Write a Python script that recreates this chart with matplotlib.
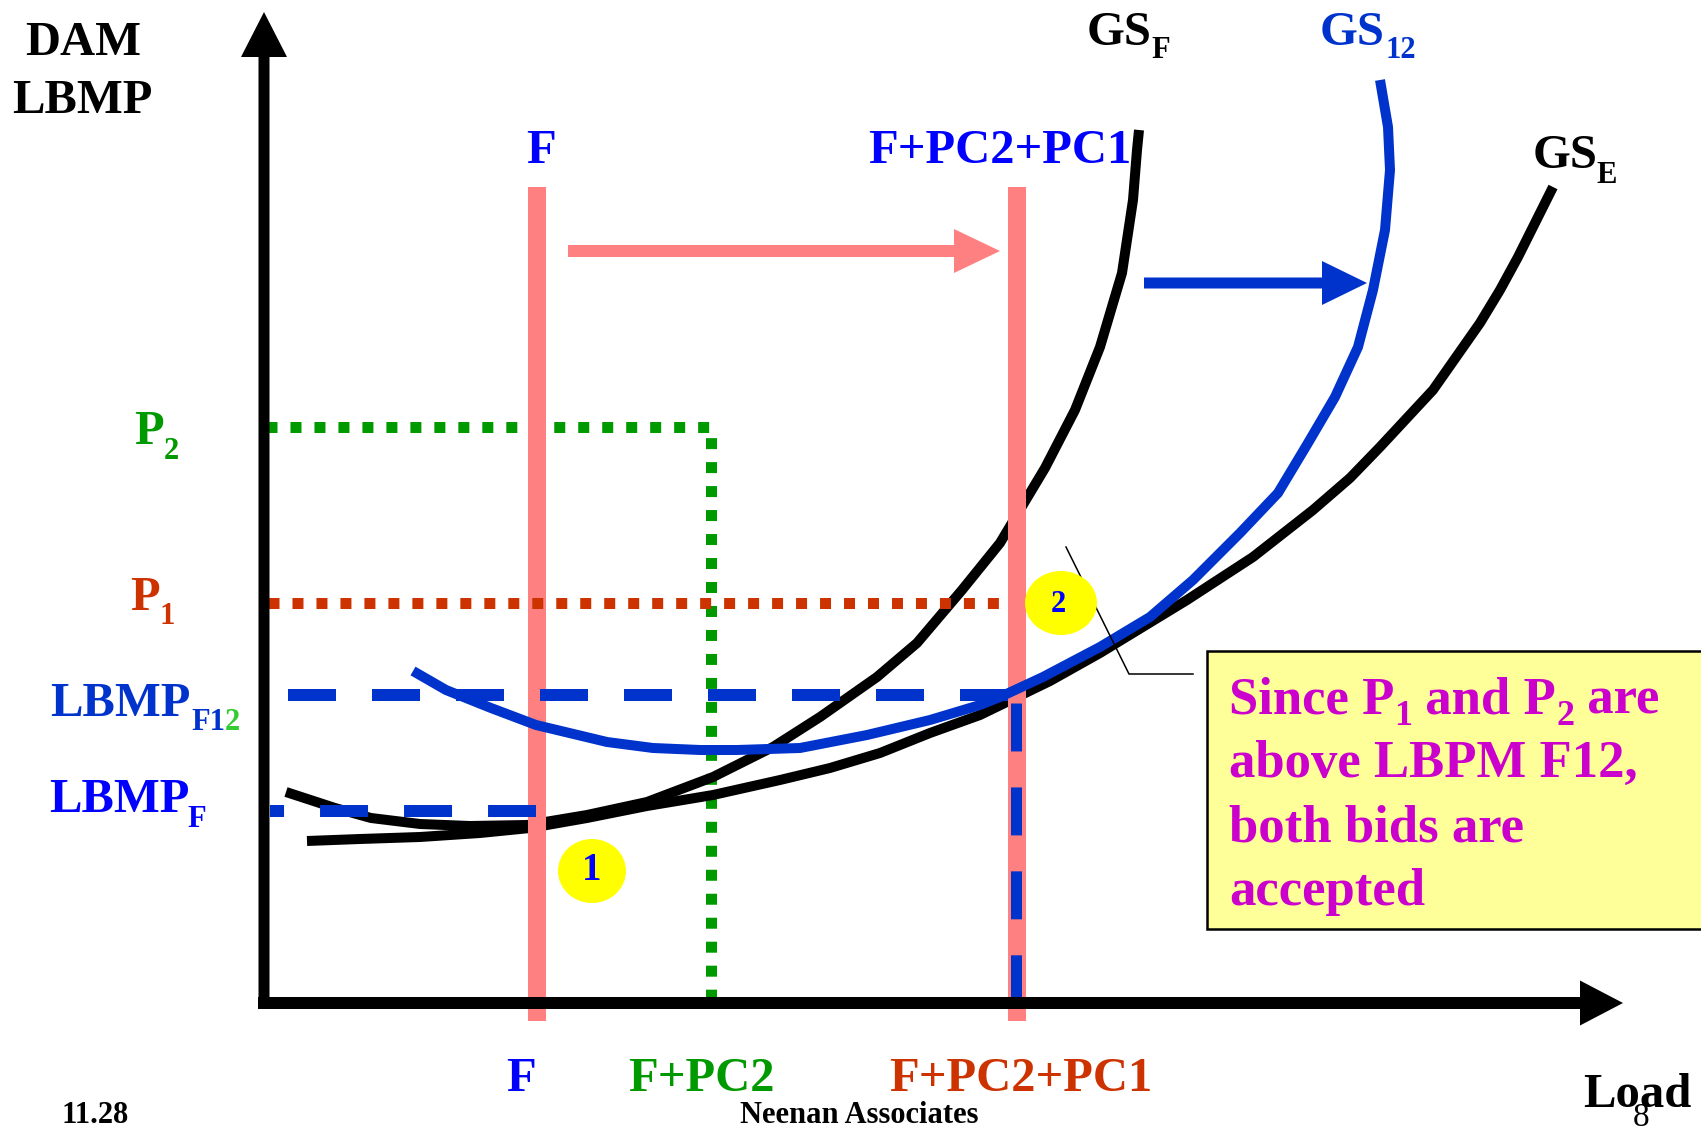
import matplotlib
matplotlib.use("Agg")
import matplotlib.pyplot as plt
from matplotlib.patches import FancyArrow, Ellipse, Rectangle

plt.rcParams['font.family'] = ['Liberation Serif', 'DejaVu Serif']

# ---------------- data (load / price units of the schematic) ----------------
bid_labels = ["F", "F+PC2", "F+PC2+PC1"]
bid_loads = [273, 447, 753]

price_names = ["P2", "P1", "LBMP_F12", "LBMP_F"]
price_levels = [576, 400, 308, 192]

gsf_load = [22, 71, 107, 156, 206, 263, 323, 383, 449, 509, 556, 613, 653, 698,
            736, 781, 811, 836, 858, 869, 873, 875]
gsf_price = [211, 195, 185, 179, 177, 178, 188, 201, 226, 256, 286, 326, 360, 413,
             460, 535, 593, 656, 730, 803, 853, 873]

gse_load = [43, 96, 156, 216, 266, 323, 383, 449, 516, 566, 616, 666, 716, 786, 836,
            923, 989, 1049, 1086, 1116, 1169, 1216, 1236, 1254, 1289]
gse_price = [162, 164, 166, 170, 175, 185, 197, 208, 223, 235, 250, 270, 288, 322, 350,
             403, 446, 493, 525, 556, 613, 680, 713, 746, 816]

gs12_load = [149, 182, 227, 272, 343, 389, 436, 473, 536, 603, 666, 716, 736, 779, 836,
             886, 929, 976, 1014, 1044, 1071, 1094, 1109, 1121, 1126, 1124, 1116]
gs12_price = [332, 313, 295, 278, 261, 255, 253, 253, 255, 268, 283, 298, 306, 326, 356,
              386, 423, 470, 510, 560, 606, 656, 713, 773, 833, 876, 923]

# ---------------- figure ----------------
W, H = 1701, 1131
X0, Y0 = 264, 1003          # pixel position of the axis origin
fig = plt.figure(figsize=(W / 100, H / 100), dpi=100)
ax = fig.add_axes([0, 0, 1, 1])
ax.set_xlim(-X0, W - X0)
ax.set_ylim(Y0 - H, Y0)
ax.axis('off')

def px(x, y):
    return x - X0, Y0 - y

def T(x, y, s, size=35, color='black', ha='left', va='baseline', weight='bold', **kw):
    xx, yy = px(x, y)
    return ax.text(xx, yy, s, fontsize=size, color=color, ha=ha, va=va,
                   fontweight=weight, family='Liberation Serif', **kw)

def chain(x, y, pieces, color, zorder=7):
    """pieces: list of (text, size, drop_px); each piece starts where the previous ends."""
    prev = None
    for s, size, drop in pieces:
        yy = Y0 - (y + drop)
        if prev is None:
            prev = ax.text(x - X0, yy, s, fontsize=size, color=color, ha='left',
                           va='baseline', fontweight='bold', family='Liberation Serif',
                           zorder=zorder)
        else:
            prev = ax.annotate(s, xy=(1, yy), xycoords=(prev, 'data'), fontsize=size,
                               color=color, ha='left', va='baseline', fontweight='bold',
                               family='Liberation Serif', zorder=zorder)
    return prev

PINK = '#ff8080'
GREEN = '#009900'
ORANGE = '#cc3300'
BLUE = '#0033cc'
PBLUE = '#0000ff'
MAG = '#cc00cc'

P2, P1, LF12, LF = price_levels
Fq, FPC2, FPC21 = bid_loads

# green dotted P2 (horizontal then vertical down to F+PC2)
ax.plot([2, FPC2, FPC2], [P2, P2, 0], color=GREEN, lw=11 * 0.72,
        linestyle=(0, (1.0, 1.18)), solid_capstyle='butt', zorder=1)

# supply curves
ax.plot(gsf_load, gsf_price, color='black', lw=10 * 0.72, zorder=2,
        solid_joinstyle='round', solid_capstyle='butt')
ax.plot(gse_load, gse_price, color='black', lw=10 * 0.72, zorder=2,
        solid_joinstyle='round', solid_capstyle='butt')

# pink bid lines
for L in (Fq, FPC21):
    ax.plot([L, L], [-18, 816], color=PINK, lw=18 * 0.72, solid_capstyle='butt', zorder=3)

ax.plot(gs12_load, gs12_price, color=BLUE, lw=10 * 0.72, zorder=3.5,
        solid_joinstyle='round', solid_capstyle='butt')

# orange dotted P1
ax.plot([4, 744], [P1, P1], color=ORANGE, lw=11 * 0.72,
        linestyle=(0, (1.0, 1.18)), zorder=4)

# blue dashed LBMP lines
ax.plot([24, 744], [LF12, LF12], color=BLUE, lw=12 * 0.72,
        linestyle=(0, (4, 3)), zorder=4)
ax.plot([6, 272], [LF, LF], color=BLUE, lw=12 * 0.72,
        linestyle=(2.83, (4, 3)), zorder=4)
ax.plot([FPC21 - 1, FPC21 - 1], [300, 0], color=BLUE, lw=11 * 0.72,
        linestyle=(0, (4.36, 3.27)), zorder=4)

# axes arrows
ax.add_patch(FancyArrow(-6, 0, 1365, 0, width=12, head_width=45, head_length=43,
                        length_includes_head=True, color='black', lw=0, zorder=5))
ax.add_patch(FancyArrow(0, -1, 0, 992, width=11, head_width=46, head_length=45,
                        length_includes_head=True, color='black', lw=0, zorder=5))

# shift arrows
ax.add_patch(FancyArrow(304, 752, 432, 0, width=12, head_width=44, head_length=46,
                        length_includes_head=True, color=PINK, lw=0, zorder=5))
ax.add_patch(FancyArrow(880, 720, 223, 0, width=11, head_width=44, head_length=45,
                        length_includes_head=True, color=BLUE, lw=0, zorder=5))

# numbered circles
ax.add_patch(Ellipse((328, 132), 68, 64, color='#ffff00', lw=0, zorder=6))
ax.add_patch(Ellipse((797, P1), 72, 64, color='#ffff00', lw=0, zorder=6))
ax.text(328, 132, "1", fontsize=28, color=PBLUE, fontweight='bold', ha='center',
        va='center', zorder=7)
ax.text(794, P1 - 1, "2", fontsize=22, color=PBLUE, fontweight='bold', ha='center',
        va='center', zorder=7)

# callout box
ax.add_patch(Rectangle(px(1207, 929), 520, 278, facecolor='#ffff99', edgecolor='black',
                       lw=1.8, zorder=6))
cx = [1066, 1129, 1193]
cy = [547, 674, 674]
ax.plot([x - X0 for x in cx], [Y0 - y for y in cy], color='black', lw=1.1, zorder=5.5)

chain(1229, 713, [("Since P", 38, 0), ("1", 26, 12), (" and P", 38, 0),
                  ("2", 26, 12), (" are", 38, 0)], MAG)
box_lines = ["above LBPM F12,", "both bids are", "accepted"]
for i, s in enumerate(box_lines):
    T(1229, 777 + 64 * i, s, size=38, color=MAG, zorder=7)

# axis titles
T(83, 55, "DAM", ha='center')
T(82, 113, "LBMP", ha='center')
T(1583, 1107, "Load")

# top labels
T(541, 163, bid_labels[0], color=PBLUE, ha='center')
T(1000, 163, bid_labels[2], color=PBLUE, ha='center')

# curve labels
T(1087, 45, "GS")
T(1151, 58, "F", size=22)
T(1320, 45, "GS", color=BLUE)
T(1385, 58, "12", size=22, color=BLUE)
T(1533, 168, "GS")
T(1596, 183, "E", size=22)

# price labels
T(134, 444, "P", color=GREEN)
T(164, 459, "2", size=22, color=GREEN)
T(130, 610, "P", color=ORANGE)
T(160, 624, "1", size=22, color=ORANGE)
T(50, 716, "LBMP", color=BLUE)
T(191, 730, "F1", size=22, color=BLUE)
T(225, 730, "2", size=22, color='#33cc33')
T(49, 812, "LBMP", color=PBLUE)
T(187, 827, "F", size=22, color=PBLUE)

# bottom load labels
T(521, 1091, bid_labels[0], color=PBLUE, ha='center')
T(701, 1091, bid_labels[1], color=GREEN, ha='center')
T(1021, 1091, bid_labels[2], color=ORANGE, ha='center')

# footer
T(62, 1123, "11.28", size=22)
T(859, 1123, "Neenan Associates", size=22, ha='center')
T(1641, 1126, "8", size=24, weight='normal', ha='center')

fig.savefig("out.png", dpi=100)
